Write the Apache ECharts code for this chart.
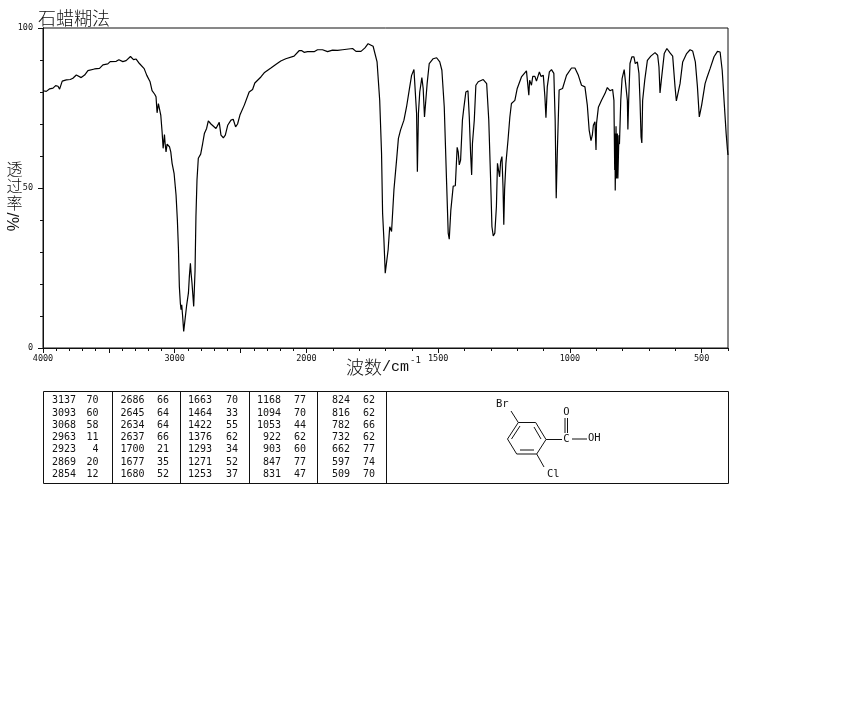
<!DOCTYPE html>
<html><head><meta charset="utf-8">
<style>html,body{margin:0;padding:0;background:#fff}#c{width:850px;height:709px}</style>
<script src="https://cdn.jsdelivr.net/npm/echarts@6/dist/echarts.min.js"></script>
</head><body><div id="c"></div>
<script>
const wavenumbers = [4000,3975,3949,3924,3904,3886,3874,3854,3823,3793,3773,3747,3710,3684,3659,3609,3571,3545,3508,3490,3444,3424,3394,3369,3336,3313,3293,3268,3232,3212,3187,3172,3152,3142,3134,3124,3106,3096,3088,3078,3073,3066,3058,3040,3030,3020,3005,2990,2980,2972,2965,2957,2952,2947,2940,2932,2919,2909,2896,2889,2881,2876,2869,2859,2856,2852,2846,2839,2831,2821,2803,2788,2775,2758,2745,2725,2687,2662,2649,2631,2616,2598,2573,2556,2538,2523,2505,2472,2435,2409,2392,2346,2321,2270,2233,2195,2157,2094,2056,2035,2018,1996,1971,1958,1939,1920,1901,1882,1863,1825,1812,1793,1778,1766,1759,1747,1732,1722,1715,1711,1706,1701,1696,1690,1684,1677,1668,1658,1651,1643,1630,1620,1610,1601,1592,1585,1582,1579,1577,1575,1570,1562,1557,1552,1548,1542,1534,1519,1506,1494,1486,1477,1468,1462,1458,1452,1443,1435,1428,1424,1420,1415,1408,1403,1395,1387,1382,1377,1373,1370,1363,1357,1348,1329,1316,1308,1301,1296,1291,1285,1279,1275,1271,1267,1263,1258,1254,1251,1248,1243,1235,1228,1222,1209,1200,1184,1165,1158,1156,1153,1146,1141,1133,1127,1116,1110,1101,1095,1091,1086,1078,1070,1061,1056,1052,1050,1048,1041,1028,1013,994,981,968,956,943,934,927,920,915,911,905,901,899,892,880,867,858,848,838,833,830,829,828,825,823,820,818,814,812,807,802,794,787,782,780,777,772,765,757,752,744,738,734,730,727,724,716,706,693,677,667,662,658,653,642,632,620,610,601,596,591,582,572,557,544,534,524,516,509,505,500,487,481,468,453,440,430,422,415,407,402,400];
const transmittance = [80.4,80.2,81.0,81.2,82.0,81.8,80.9,83.4,83.8,83.9,84.3,85.3,84.5,85.3,86.7,87.2,87.4,88.5,88.8,89.5,89.6,90.1,89.5,89.8,91.1,90.1,90.3,88.9,87.3,85.2,83.2,80.4,79.3,78.5,73.5,76.4,72.8,67.6,62.4,66.7,63.9,61.3,63.7,62.9,61.3,57.7,54.6,47.8,40,31.2,19.2,13.8,12.0,13.5,9.9,5.2,5.2,13.5,17.2,22.3,26.5,23.4,20.3,14.6,13.0,13.0,23.9,41,52.5,59.3,60.6,63.9,67.0,68.6,71,70,68.6,70.5,66.5,65.7,66.5,69.6,71.2,71.5,69.1,70,72.8,75.9,80,80.8,82.8,84.7,86,87.5,88.6,89.7,90.4,91.2,92.9,92.9,92.4,92.6,92.6,93.2,93.2,92.6,93.1,93.0,93.2,93.6,92.7,92.7,93.8,95.1,95.1,94.3,89.4,77.4,60.8,42.1,33.8,23.4,22.9,30.7,37.9,36.4,49.4,58.7,65.5,68.1,71.2,75.4,80.6,85.2,87,87.6,73.3,55.1,55.1,73.3,80,84.5,81.1,72.2,71.7,82.6,88.9,90.4,90.7,89.4,86.8,75.4,51.5,35.9,34,43.1,50.6,50.7,62.7,61.3,57.2,58.7,71.2,74.8,80,80.4,72.2,60.8,54.1,63.9,71.2,82.1,83.2,83.9,82.6,71.2,52.5,37.9,35,35.9,44.2,57.7,57.2,53.5,58.2,59.8,50.4,38.5,49.4,57.7,65,72.2,76.4,77.4,81.1,84.7,86.6,86.6,79,83.7,82.1,84.9,84.9,83.4,86.3,84.9,85.2,78.5,72,81.6,86.3,87,85.8,71.2,46.8,46.8,60.8,80.6,81.1,85.2,87.5,87.5,85.2,82.1,81.6,75.9,68.1,64.8,66.5,69.6,70.7,61.9,70.2,75.2,77.4,79.5,81.4,80.4,80.8,77.4,55.6,67,49.2,69.3,53,67,53,66.5,63.7,77.4,84.2,87,86.8,77.4,68.3,77.4,88.9,91,91,88.9,89.4,85.8,77.4,66,64.1,77.4,83.7,89.9,91.2,92.3,91.5,87.8,79.7,83.7,92,93.6,92.2,91.2,81.6,77.2,77.4,82.6,89.4,92,93.2,92.8,89.4,81.6,72.2,71.9,75.9,82.6,84.2,87.3,91,92.7,92.5,86.8,77.4,67,61.9,60.3];
const xTickLabels = [4000,3000,2000,1500,1000,500];
const xMajorTicks = [4000,3500,3000,2500,2000,1500,1000,500];
const xMinorTicks = [3900,3800,3700,3600,3400,3300,3200,3100,2900,2800,2700,2600,2400,2300,2200,2100,1900,1800,1700,1600,1400,1300,1200,1100,900,800,700,600,400];
const yTickLabels = [0,50,100];
const yMinorTicks = [10,20,30,40,60,70,80,90];
const peakWave = [
 ['3137','3093','3068','2963','2923','2869','2854'],
 ['2686','2645','2634','2637','1700','1677','1680'],
 ['1663','1464','1422','1376','1293','1271','1253'],
 ['1168','1094','1053','922','903','847','831'],
 ['824','816','782','732','662','597','509']];
const peakTrans = [
 ['70','60','58','11','4','20','12'],
 ['66','64','64','66','21','35','52'],
 ['70','33','55','62','34','52','37'],
 ['77','70','44','62','60','77','47'],
 ['62','62','66','62','77','74','70']];

// the instrument's abscissa changes scale at 2000 cm-1 (1000 per 132px above, 500 per 132px below)
const toAxis = w => w >= 2000 ? (4000 - w) / 2 : 1000 + (2000 - w);
const fromAxis = a => a <= 1000 ? 4000 - a * 2 : 2000 - (a - 1000);

const MONO = '"DejaVu Sans Mono","Liberation Mono",monospace';
const CJK = '"Noto Sans CJK SC",sans-serif';
const g = [];
const text = (x, y, t, o = {}) => g.push({type:'text', x, y, rotation:o.rot||0, silent:true, style:{
  text:t, fill:o.fill||'#111', font:(o.weight||'normal')+' '+(o.size||18)+'px '+(o.family||CJK),
  textAlign:o.align||'left', textVerticalAlign:'middle'}});
const line = (x1,y1,x2,y2) => g.push({type:'line', silent:true, shape:{x1,y1,x2,y2}, style:{stroke:'#111', lineWidth:1}});

text(38, 18, '石蜡糊法', {size:18, weight:200});
text(14.5, 168.5, '透', {size:16, align:'center', weight:200});
text(14.5, 186, '过', {size:16, align:'center', weight:200});
text(14.5, 203, '率', {size:16, align:'center', weight:200});
text(14.5, 222, '%/', {size:16, align:'center', rot:Math.PI/2, family:'"Liberation Sans",sans-serif'});
text(346, 367, '波数', {size:18, weight:200});
text(382, 367, '/cm', {size:15, family:'"Liberation Mono",monospace'});
text(410, 361, '-1', {size:9, family:MONO});

// peak table
const TL=43.5, TR=728.5, TT=391.5, TB=483.5;
line(TL,TT,TR,TT); line(TL,TB,TR,TB); line(TL,TT,TL,TB); line(TR,TT,TR,TB);
[112.5,180.5,249.5,317.5,386.5].forEach(x => line(x,TT,x,TB));
const numRight=[76,144.5,212,281,350], valRight=[98.5,169,238,306,375];
peakWave.forEach((col,c) => col.forEach((w,r) => {
  const y = 400.7 + r*12.3;
  text(numRight[c], y, w, {size:10, family:MONO, align:'right'});
  text(valRight[c], y, peakTrans[c][r], {size:10, family:MONO, align:'right'});
}));

// molecule sketch
[[518.3,422.5,535.7,422.5],[535.7,422.5,546,439.5],[546,439.5,536.7,454],[536.7,454,516.7,454],[516.7,454,507.5,439],[507.5,439,518.3,422.5],
 [534,427,541,439],[520,450,534,450],[511.5,439,520,426],
 [518.3,422.5,511,411],[536.7,454,544,467],[546,439.5,562,439.5],[572,439,587,439],[565,418,565,433],[567.5,418,567.5,433]
].forEach(s => line(...s));
text(496, 404, 'Br', {size:10.5, family:MONO});
text(566.5, 412, 'O', {size:10.5, family:MONO, align:'center'});
text(566.5, 439, 'C', {size:10.5, family:MONO, align:'center'});
text(588, 438.5, 'OH', {size:10.5, family:MONO});
text(547, 474, 'Cl', {size:10.5, family:MONO});

const base = {min:0, max:2600, type:'value', position:'bottom', splitLine:{show:false}};
const ybase = {min:0, max:100, type:'value', position:'left', splitLine:{show:false}};
const axisLine = {show:true, onZero:false, lineStyle:{color:'#111', width:1}};
const tick = (vals,len) => ({show:true, length:len, customValues:vals, lineStyle:{color:'#111', width:1}});

const option = {
  animation:false,
  backgroundColor:'#fff',
  grid:{left:43, top:28, width:685, height:320, show:true, borderColor:'#111', borderWidth:1, backgroundColor:'transparent'},
  xAxis:[
    {...base, axisLine, axisTick:tick(xMinorTicks.map(toAxis),3), axisLabel:{show:false}},
    {...base, axisLine, axisTick:tick(xMajorTicks.map(toAxis),5),
     axisLabel:{show:true, customValues:xTickLabels.map(toAxis), formatter:v=>String(Math.round(fromAxis(v))), margin:6, color:'#111', fontFamily:MONO, fontSize:8.5, hideOverlap:false}}
  ],
  yAxis:[
    {...ybase, axisLine, axisTick:tick(yMinorTicks,3), axisLabel:{show:false}},
    {...ybase, axisLine, axisTick:tick(yTickLabels,5),
     axisLabel:{show:true, customValues:yTickLabels, margin:10, color:'#111', fontFamily:MONO, fontSize:8.5, hideOverlap:false}}
  ],
  series:[{type:'line', xAxisIndex:0, yAxisIndex:0, showSymbol:false, symbol:'none', smooth:false, silent:true, clip:true,
    lineStyle:{color:'#000', width:1.2},
    data:wavenumbers.map((w,i)=>[toAxis(w), transmittance[i]])}],
  graphic:g
};
echarts.init(document.getElementById('c'),null,{renderer:'canvas'}).setOption(option);
</script></body></html>
